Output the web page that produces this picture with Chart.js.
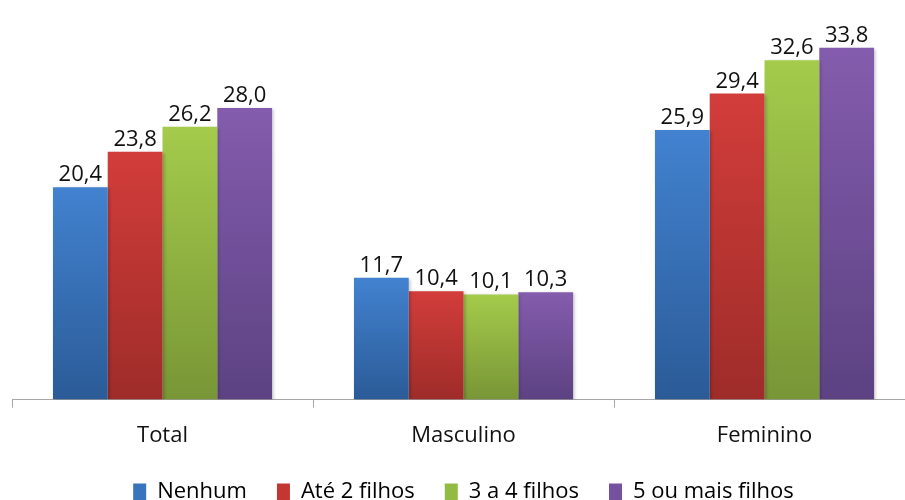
<!DOCTYPE html>
<html>
<head>
<meta charset="utf-8">
<script src="https://cdn.jsdelivr.net/npm/chart.js@4.4.1/dist/chart.umd.min.js"></script>
<style>
  html, body { margin: 0; padding: 0; background: #ffffff; overflow: hidden; }
  #wrap { width: 920px; height: 500px; position: relative; }
</style>
</head>
<body>
<div id="wrap"><canvas id="chart"></canvas></div>
<script>
// Categories and series
const categories = ['Total', 'Masculino', 'Feminino'];
const seriesNames = ['Nenhum', 'Até 2 filhos', '3 a 4 filhos', '5 ou mais filhos'];
const nenhum = [20.4, 11.7, 25.9];
const ate2 = [23.8, 10.4, 29.4];
const de3a4 = [26.2, 10.1, 32.6];
const cincoOuMais = [28.0, 10.3, 33.8];

// Per-series colour ramps: [top, bottom, legend swatch]
const palettes = [
  ['#4282d0', '#2b5b97', '#3a74bd'],
  ['#d23d3a', '#9e2c29', '#c43633'],
  ['#a4cb4b', '#789636', '#93ba42'],
  ['#845cad', '#5c4282', '#7552a0']
];

const FONT = "'Open Sans', 'Noto Sans', sans-serif";
const TEXT = '#111111';
const fmt = v => v.toFixed(1).replace('.', ',');

function barGradient(idx) {
  return function (ctx) {
    const chart = ctx.chart;
    const y = chart.scales && chart.scales.y;
    if (!y || ctx.type !== 'data') return palettes[idx][2];
    const top = y.getPixelForValue(ctx.raw);
    const base = y.getPixelForValue(0);
    const g = chart.ctx.createLinearGradient(0, top, 0, base);
    g.addColorStop(0, palettes[idx][0]);
    g.addColorStop(1, palettes[idx][1]);
    return g;
  };
}

const values = [nenhum, ate2, de3a4, cincoOuMais];
const datasets = seriesNames.map((name, i) => ({
  label: name,
  data: values[i],
  backgroundColor: barGradient(i),
  borderWidth: 0,
  barPercentage: 1.0,
  categoryPercentage: 0.728
}));

// Soft drop shadow behind the bars
const barShadow = {
  id: 'barShadow',
  beforeDatasetsDraw(chart) {
    const c = chart.ctx;
    c.save();
    c.shadowColor = 'rgba(0,0,0,0.22)';
    c.shadowBlur = 3;
    c.shadowOffsetX = 2;
    c.shadowOffsetY = 1;
  },
  afterDatasetsDraw(chart) {
    chart.ctx.restore();
  }
};

// Value labels above every bar
const valueLabels = {
  id: 'valueLabels',
  afterDatasetsDraw(chart) {
    const c = chart.ctx;
    c.save();
    c.font = '500 22px ' + FONT;
    c.fillStyle = TEXT;
    c.textAlign = 'center';
    c.textBaseline = 'alphabetic';
    chart.data.datasets.forEach((ds, di) => {
      const meta = chart.getDatasetMeta(di);
      meta.data.forEach((bar, i) => {
        c.fillText(fmt(ds.data[i]), bar.x, bar.y - 6);
      });
    });
    c.restore();
  }
};

new Chart(document.getElementById('chart'), {
  type: 'bar',
  data: { labels: categories, datasets },
  options: {
    responsive: true,
    maintainAspectRatio: false,
    animation: false,
    layout: { padding: { left: 12, right: 5, top: 4, bottom: -13 } },
    scales: {
      x: {
        afterFit(scale) { scale.height -= 13; },
        grid: {
          display: true,
          offset: true,
          drawOnChartArea: false,
          drawTicks: true,
          tickLength: 8,
          color: '#a6a6a6',
          lineWidth: 1
        },
        border: { display: true, color: '#a6a6a6', width: 1 },
        ticks: {
          color: TEXT,
          padding: 15,
          font: { family: FONT, size: 22, weight: '500' }
        }
      },
      y: {
        display: false,
        min: 0,
        max: 38
      }
    },
    plugins: {
      tooltip: { enabled: false },
      legend: {
        position: 'bottom',
        labels: {
          boxWidth: 13,
          boxHeight: 17,
          padding: 30,
          color: TEXT,
          font: { family: FONT, size: 22, weight: '500' },
          generateLabels(chart) {
            return chart.data.datasets.map((ds, i) => ({
              text: ds.label,
              fillStyle: palettes[i][2],
              strokeStyle: palettes[i][2],
              lineWidth: 0,
              hidden: false,
              datasetIndex: i
            }));
          }
        }
      }
    }
  },
  plugins: [barShadow, valueLabels]
});
</script>
</body>
</html>
